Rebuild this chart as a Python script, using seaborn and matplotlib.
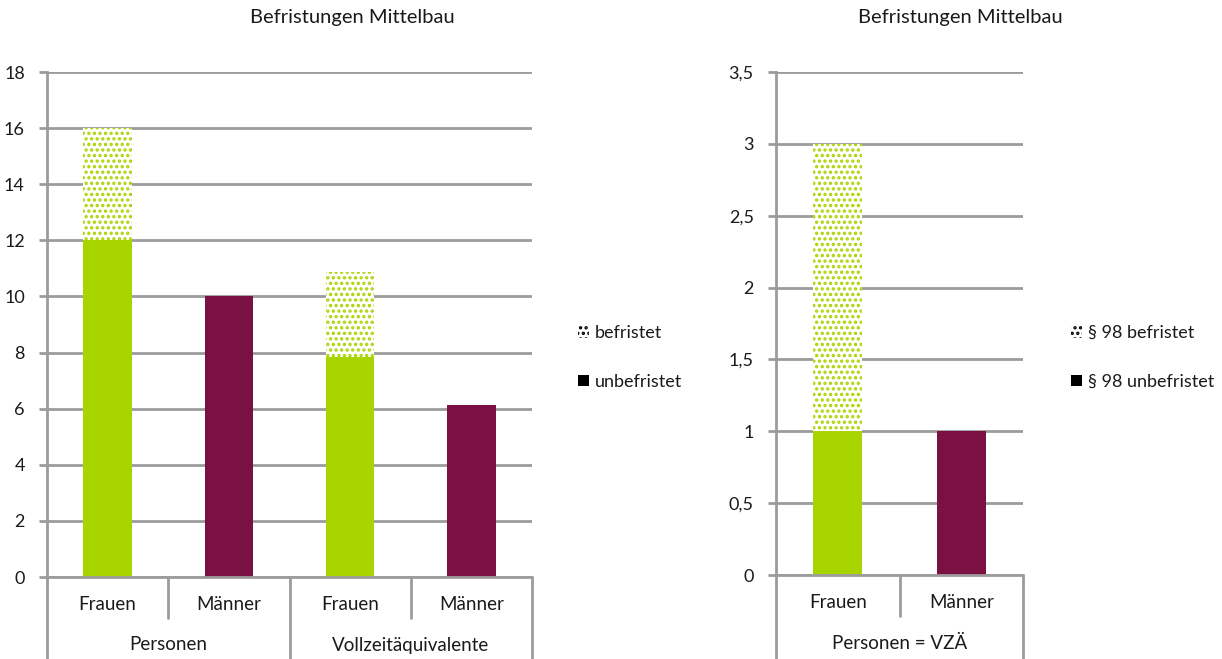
import matplotlib
matplotlib.use("Agg")
import matplotlib.pyplot as plt
import matplotlib.transforms as mtransforms
from matplotlib.patches import Patch
import seaborn as sns
import pandas as pd

# --- data -------------------------------------------------------------
left_groups = ["Personen", "Personen", "Vollzeitäquivalente", "Vollzeitäquivalente"]
left_genders = ["Frauen", "Männer", "Frauen", "Männer"]
left_unbefristet = [12, 10, 7.84, 6.13]
left_befristet = [4, 0, 3.03, 0]
left_ticks = [0, 2, 4, 6, 8, 10, 12, 14, 16, 18]

right_groups = ["Personen = VZÄ", "Personen = VZÄ"]
right_genders = ["Frauen", "Männer"]
right_unbefristet = [1, 1]
right_befristet = [2, 0]
right_ticks = [0, 0.5, 1, 1.5, 2, 2.5, 3, 3.5]

title = "Befristungen Mittelbau"
legend_left = ["befristet", "unbefristet"]
legend_right = ["§ 98 befristet", "§ 98 unbefristet"]

# --- style ------------------------------------------------------------
GREEN = "#A8D400"
MAROON = "#7B1042"
GRID = "#9C9C9C"
TEXT = "#1A1A1A"
FS = 13

sns.set_theme(style="white")
plt.rcParams["font.family"] = ["Lato", "DejaVu Sans"]
plt.rcParams["hatch.linewidth"] = 1.6
plt.rcParams["text.color"] = TEXT

W, H = 1222, 659
fig = plt.figure(figsize=(W / 100, H / 100), dpi=100)


def px_axes(x0, y0, x1, y1):
    return fig.add_axes([x0 / W, 1 - y1 / H, (x1 - x0) / W, (y1 - y0) / H])


def draw_panel(ax, groups, genders, unbef, bef, ticks, ymax, fmt):
    keys = [f"{g}|{s}|{i}" for i, (g, s) in enumerate(zip(groups, genders))]
    totals = [u + b for u, b in zip(unbef, bef)]
    df = pd.DataFrame({"key": keys, "gender": genders,
                       "total": totals, "unbef": unbef})

    # dotted part: full stacked height, drawn first
    sns.barplot(data=df, x="key", y="total", color="white", width=0.4,
                order=keys, ax=ax, errorbar=None, saturation=1, zorder=3)
    for p in ax.patches:
        p.set_facecolor("white")
        p.set_edgecolor(GREEN)
        p.set_linewidth(0)
        p.set_hatch("...")
    n_dot = len(ax.patches)

    # solid part on top
    sns.barplot(data=df, x="key", y="unbef", hue="gender", order=keys,
                palette={"Frauen": GREEN, "Männer": MAROON}, dodge=False,
                width=0.4, ax=ax, errorbar=None, legend=False, saturation=1,
                zorder=4)
    for p in ax.patches[n_dot:]:
        p.set_linewidth(0)

    n = len(keys)
    ax.set_xlim(-0.5, n - 0.5)
    ax.set_ylim(0, ymax)
    ax.set_yticks(ticks)
    ax.set_yticklabels([fmt(t) for t in ticks], fontsize=FS, color=TEXT)
    ax.yaxis.grid(True, color=GRID, linewidth=2, zorder=0)
    ax.set_axisbelow(True)
    ax.tick_params(axis="y", left=True, length=6, width=2, color=GRID, pad=10)
    ax.set_xticks([])
    ax.set_xlabel("")
    ax.set_ylabel("")
    for s in ("top", "right", "bottom"):
        ax.spines[s].set_visible(False)
    ax.spines["left"].set_color(GRID)
    ax.spines["left"].set_linewidth(2)

    # two-level category axis below the plot
    trans = mtransforms.blended_transform_factory(ax.transData, ax.transAxes)
    ax_h = ax.get_position().height * H
    short = -41 / ax_h
    long = -90 / ax_h
    ax.plot([-0.5, n - 0.5], [0, 0], transform=trans, color=GRID,
            linewidth=2, clip_on=False, zorder=5)
    bounds = [-0.5]
    for i in range(1, n):
        if groups[i] != groups[i - 1]:
            bounds.append(i - 0.5)
    bounds.append(n - 0.5)
    for i in range(0, n + 1):
        xb = i - 0.5
        y_end = long if xb in bounds else short
        ax.plot([xb, xb], [0, y_end], transform=trans, color=GRID,
                linewidth=2, clip_on=False)
    for i, s in enumerate(genders):
        ax.text(i, -28 / ax_h, s, transform=trans, ha="center", va="center",
                fontsize=FS + 0.5, color=TEXT)
    for a, b in zip(bounds[:-1], bounds[1:]):
        ax.text((a + b) / 2, -68 / ax_h, groups[int(a + 0.5)], transform=trans,
                ha="center", va="center", fontsize=FS + 0.5, color=TEXT)


def fmt_int(t):
    return f"{t:g}"


def fmt_de(t):
    return f"{t:g}".replace(".", ",")


ax1 = px_axes(47, 72, 532, 577)
draw_panel(ax1, left_groups, left_genders, left_unbefristet, left_befristet,
           left_ticks, 18, fmt_int)

ax2 = px_axes(776, 72, 1023, 575)
draw_panel(ax2, right_groups, right_genders, right_unbefristet,
           right_befristet, right_ticks, 3.5, fmt_de)

fig.text(352 / W, 1 - 18 / H, title, ha="center", va="center", fontsize=14.5)
fig.text(960 / W, 1 - 18 / H, title, ha="center", va="center", fontsize=14.5)


def handles(labels):
    return [Patch(facecolor="white", edgecolor="black", hatch="...",
                  linewidth=0, label=labels[0]),
            Patch(facecolor="black", edgecolor="black", linewidth=0,
                  label=labels[1])]


for labels, x0 in ((legend_left, 578), (legend_right, 1071)):
    fig.legend(handles=handles(labels), loc="center left",
               bbox_to_anchor=(x0 / W, 1 - 357.5 / H), frameon=False,
               fontsize=FS, handlelength=0.6, handleheight=0.6,
               handletextpad=0.35, labelspacing=1.8, borderpad=0,
               borderaxespad=0)

fig.savefig("out.png", dpi=100, facecolor="white")
